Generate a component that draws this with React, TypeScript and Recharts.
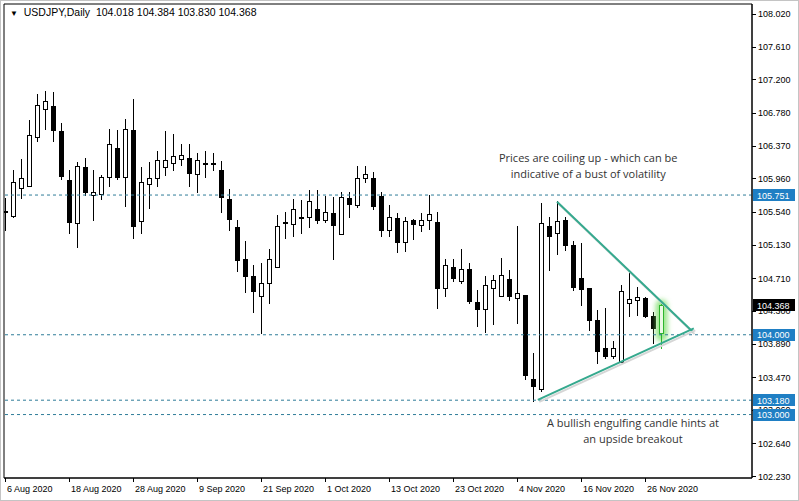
import { ComposedChart, Bar, XAxis, YAxis, ReferenceLine, ReferenceArea, ReferenceDot } from "recharts"

// daily OHLC, 6 Aug 2020 -> 30 Nov 2020
const opens = [
  105.54, 105.49, 105.84, 105.87, 106.48, 106.83, 106.87, 106.55, 105.94, 105.4,
  106.1, 105.75, 105.76, 105.98, 106.34, 105.98, 106.57, 105.42, 105.89, 105.96,
  106.1, 106.15, 106.2, 106.22, 106.01, 106.15, 106.15, 106.07, 105.7, 105.35,
  104.95, 104.74, 104.48, 104.65, 104.85, 105.41, 105.39, 105.48, 105.47, 105.57,
  105.44, 105.52, 105.26, 105.72, 105.63, 105.96, 105.96, 105.74, 105.31, 105.46,
  105.16, 105.44, 105.38, 105.44, 105.41, 104.58, 104.85, 104.67, 104.83, 104.41,
  104.32, 104.58, 104.48, 104.7, 104.46, 104.5, 103.45, 103.32, 105.36, 105.27,
  105.44, 105.12, 104.71, 104.59, 104.19, 103.83, 103.74, 103.66, 104.4, 104.44,
  104.46, 104.23, 104.018,
]
const highs = [
  105.71, 106.07, 106.2, 106.69, 107.02, 107.06, 107.04, 106.66, 106.07, 106.17,
  106.22, 106.07, 106.0, 106.58, 106.57, 106.7, 106.96, 106.1, 106.17, 106.3,
  106.55, 106.52, 106.39, 106.39, 106.28, 106.3, 106.28, 106.18, 105.83, 105.44,
  105.17, 104.88, 104.9, 105.08, 105.5, 105.54, 105.7, 105.69, 105.81, 105.81,
  105.74, 105.73, 105.79, 105.79, 106.12, 106.12, 106.04, 105.79, 105.63, 105.52,
  105.48, 105.45, 105.52, 105.75, 105.54, 104.95, 104.95, 105.07, 104.9, 104.56,
  104.74, 104.75, 104.96, 104.81, 105.36, 104.5, 103.77, 105.65, 105.48, 105.67,
  105.47, 105.17, 105.15, 104.59, 104.31, 104.34, 103.92, 104.62, 104.78, 104.6,
  104.47, 104.28, 104.384,
]
const lows = [
  105.31, 105.48, 105.71, 105.87, 106.43, 106.58, 106.43, 105.95, 105.28, 105.1,
  105.75, 105.44, 105.7, 105.87, 105.95, 105.61, 105.21, 105.27, 105.59, 105.86,
  106.0, 106.06, 106.13, 105.86, 105.79, 105.98, 106.07, 105.54, 105.31, 104.8,
  104.53, 104.28, 104.02, 104.4, 104.85, 105.21, 105.24, 105.27, 105.35, 105.4,
  105.41, 104.95, 105.26, 105.47, 105.6, 105.92, 105.58, 105.24, 105.24, 105.04,
  105.05, 105.2, 105.3, 105.33, 104.34, 104.48, 104.67, 104.65, 104.4, 104.11,
  104.03, 104.14, 104.48, 104.44, 104.15, 103.44, 103.17, 103.29, 104.81, 105.01,
  105.06, 104.56, 104.37, 104.06, 103.65, 103.71, 103.71, 103.66, 104.24, 104.25,
  104.22, 103.9, 103.83,
]
const closes = [
  105.55, 105.91, 105.96, 106.5, 106.88, 106.93, 106.57, 105.99, 105.41, 106.12,
  105.79, 105.79, 105.98, 106.39, 105.98, 106.58, 105.36, 105.91, 105.96, 106.19,
  106.19, 106.24, 106.25, 106.03, 106.19, 106.14, 106.14, 105.73, 105.45, 104.94,
  104.74, 104.55, 104.65, 104.95, 105.36, 105.4, 105.57, 105.47, 105.68, 105.44,
  105.54, 105.37, 105.73, 105.64, 105.96, 106.02, 105.61, 105.31, 105.48, 105.16,
  105.43, 105.39, 105.44, 105.51, 104.58, 104.88, 104.71, 104.83, 104.42, 104.32,
  104.62, 104.69, 104.75, 104.49, 104.52, 103.5, 103.36, 105.4, 105.24, 105.43,
  105.12, 104.6, 104.57, 104.19, 103.8, 103.74, 103.83, 104.55, 104.45, 104.47,
  104.23, 104.09, 104.368,
]

const dateTicks = [0, 8, 16, 24, 32, 40, 48, 56, 64, 72, 80]
const dateLabels = [
  "6 Aug 2020", "18 Aug 2020", "28 Aug 2020", "9 Sep 2020", "21 Sep 2020", "1 Oct 2020",
  "13 Oct 2020", "23 Oct 2020", "4 Nov 2020", "16 Nov 2020", "26 Nov 2020",
]
const priceTicks = [
  108.02, 107.61, 107.2, 106.78, 106.37, 105.96, 105.54, 105.13, 104.71, 104.3,
  103.89, 103.47, 103.06, 102.64, 102.23,
]
const levels = [105.751, 104.0, 103.18, 103.0]
const lastPrice = 104.368

// triangle drawn on the chart
const upperLine = [{ x: 69, y: 105.668 }, { x: 86, y: 104.035 }]
const lowerLine = [{ x: 66.6, y: 103.183 }, { x: 86.1, y: 104.08 }]

const data = opens.map((o, i) => ({
  i,
  open: o,
  high: highs[i],
  low: lows[i],
  close: closes[i],
  range: [lows[i], highs[i]],
}))

const X_DOMAIN = [-0.125, 93.375]
const Y_DOMAIN = [102.205, 108.145]
const FONT = "'Liberation Sans', Arial, sans-serif"
const DASH = "#2f7c99"
const TRI = "#35a98e"
const BLUE = "#1f7fc4"

// badges go last so they paint over the plain tick labels
const axisTicks = [...priceTicks, ...levels, lastPrice]

function Candle(props: any) {
  const { x, y, width, height, payload } = props
  if (x == null || !payload) return null
  const top = Math.min(y, y + height)
  const bot = Math.max(y, y + height)
  const { open, close, high, low } = payload
  const span = high - low || 1
  const py = (p: number) => top + ((high - p) / span) * (bot - top)
  const cx = Math.round(x + width / 2) + 0.5
  const bTop = Math.round(py(Math.max(open, close))) + 0.5
  let bBot = Math.round(py(Math.min(open, close))) + 0.5
  if (bBot - bTop < 1) bBot = bTop + 1
  const up = close >= open
  const last = payload.i === data.length - 1
  const ink = last ? "#2db52d" : "#000"
  return (
    <g shapeRendering="crispEdges">
      {last && (
        <>
          <defs>
            <filter id="glow" x="-1" y="-1" width="3" height="3">
              <feGaussianBlur stdDeviation="2.5" />
            </filter>
          </defs>
          <rect x={cx - 6} y={bTop - 6} width={12} height={bBot - bTop + 14} rx={6}
            fill="rgba(110,220,90,0.7)" filter="url(#glow)" shapeRendering="auto" />
        </>
      )}
      <line x1={cx} x2={cx} y1={Math.round(py(high))} y2={Math.round(py(low)) + 1} stroke={ink} />
      <rect x={cx - 2} y={bTop} width={4} height={bBot - bTop}
        fill={last ? "#eaf8e4" : up ? "#fff" : "#000"} stroke={ink} />
    </g>
  )
}

function DateTick(props: any) {
  const { x, y, payload } = props
  const k = dateTicks.indexOf(payload.value)
  const px = Math.round(x) + 0.5
  return (
    <g>
      <line x1={px} x2={px} y1={y} y2={y + 4} stroke="#000" shapeRendering="crispEdges" />
      <text x={px + 1.5} y={y + 14} fontSize={9} fontFamily={FONT} fill="#000">
        {dateLabels[k]}
      </text>
    </g>
  )
}

function PriceTick(props: any) {
  const { x, y, payload } = props
  const v = payload.value
  const py = Math.round(y) + 0.5
  if (v === lastPrice || levels.includes(v)) {
    const bx = x + 1
    return (
      <g>
        <rect x={bx} y={Math.round(y) - 6} width={42} height={12} fill={v === lastPrice ? "#000" : BLUE} />
        <text x={bx + 4} y={y + 3.5} fontSize={9} fontFamily={FONT} fill="#fff">
          {v.toFixed(3)}
        </text>
      </g>
    )
  }
  return (
    <g>
      <line x1={x} x2={x + 4} y1={py} y2={py} stroke="#000" shapeRendering="crispEdges" />
      <text x={x + 6} y={y + 3.5} fontSize={9} fontFamily={FONT} fill="#000">
        {v.toFixed(3)}
      </text>
    </g>
  )
}

function note(lines: string[]) {
  return (p: any) => {
    const vb = p.viewBox
    return (
      <text x={vb.x} y={vb.y} textAnchor="middle" fontSize={11} fontFamily="'Open Sans', sans-serif" fill="#333">
        {lines.map((l, k) => (
          <tspan key={k} x={vb.x} dy={k === 0 ? 0 : 16}>{l}</tspan>
        ))}
      </text>
    )
  }
}

function TriLine(p: any) {
  return (
    <g>
      <line x1={p.x1 + 1.5} y1={p.y1 + 2} x2={p.x2 + 1.5} y2={p.y2 + 2} stroke="#d6d6d6" strokeWidth={2} />
      <line x1={p.x1} y1={p.y1} x2={p.x2} y2={p.y2} stroke={TRI} strokeWidth={2} />
    </g>
  )
}

export default function App() {
  return (
    <div style={{ position: "absolute", left: 0, top: 0, width: 799, height: 501, background: "#fff", fontFamily: FONT }}>
      <ComposedChart width={799} height={501} data={data} margin={{ top: 4, right: 0, left: 4, bottom: 0 }}>
        <XAxis
          type="number"
          dataKey="i"
          domain={X_DOMAIN}
          allowDataOverflow
          ticks={dateTicks}
          interval={0}
          height={23}
          tickSize={0}
          tickMargin={0}
          tickLine={false}
          axisLine={{ stroke: "#000" }}
          tick={<DateTick />}
        />
        <YAxis
          orientation="right"
          type="number"
          domain={Y_DOMAIN}
          allowDataOverflow
          ticks={axisTicks}
          interval={0}
          width={47}
          tickSize={0}
          tickMargin={0}
          tickLine={false}
          axisLine={{ stroke: "#000" }}
          tick={<PriceTick />}
        />
        <ReferenceArea x1={X_DOMAIN[0]} x2={X_DOMAIN[1]} y1={Y_DOMAIN[0]} y2={Y_DOMAIN[1]}
          fill="none" stroke="#000" fillOpacity={0} strokeOpacity={1} />
        {levels.map((lv) => (
          <ReferenceLine key={lv} y={lv} stroke={DASH} strokeDasharray="3 3" />
        ))}
        <Bar dataKey="range" barSize={5} shape={<Candle />} isAnimationActive={false} />
        <ReferenceLine segment={upperLine} shape={TriLine} />
        <ReferenceLine segment={lowerLine} shape={TriLine} />
        <ReferenceDot x={72.9} y={106.16} r={0} fill="none" stroke="none"
          label={note(["Prices are coiling up - which can be", "indicative of a bust of volatility"])} />
        <ReferenceDot x={78.5} y={102.84} r={0} fill="none" stroke="none"
          label={note(["A bullish engulfing candle hints at", "an upside breakout"])} />
      </ComposedChart>
      <div style={{ position: "absolute", left: 10, top: 6, fontSize: 10.5, lineHeight: "12px", color: "#000", whiteSpace: "pre" }}>
        <span style={{ fontSize: 8 }}>▼</span>{"  USDJPY,Daily  104.018 104.384 103.830 104.368"}
      </div>
      <div style={{ position: "absolute", inset: 0, border: "1px solid #c4c4c4", pointerEvents: "none" }} />
    </div>
  )
}
